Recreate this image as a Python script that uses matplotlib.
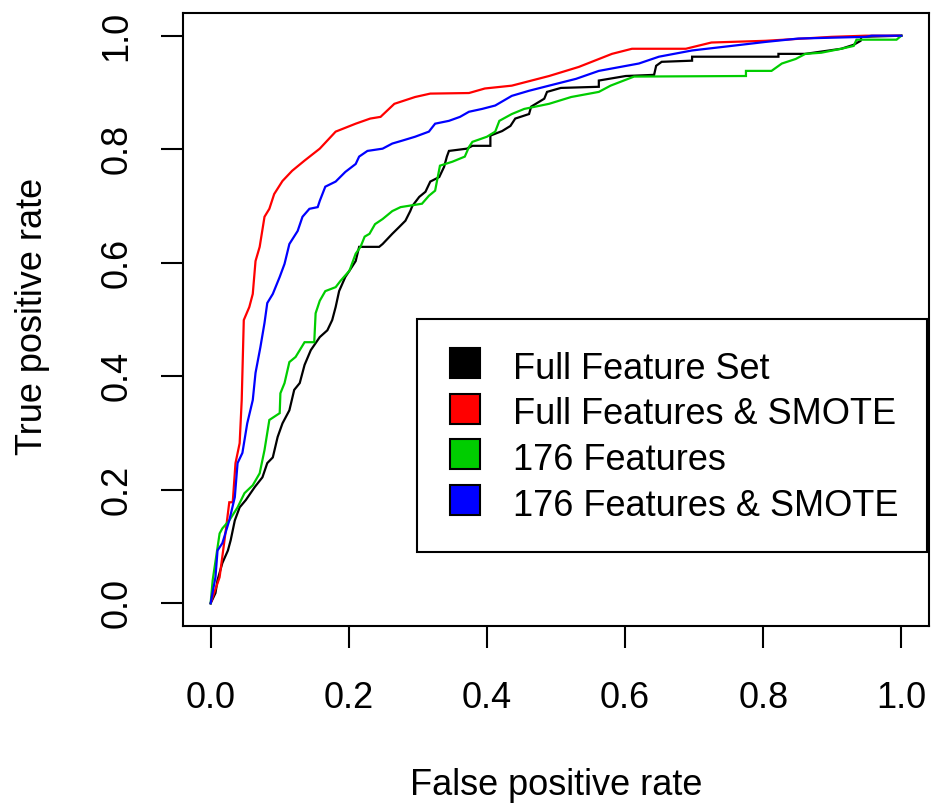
import matplotlib
matplotlib.use("Agg")
import matplotlib.pyplot as plt
from matplotlib.lines import Line2D

plt.rcParams['font.family'] = ['Liberation Sans', 'DejaVu Sans']

series_names = ["Full Feature Set", "Full Features & SMOTE", "176 Features", "176 Features & SMOTE"]
series_colors = ["#000000", "#FF0000", "#00CD00", "#0000FF"]

full_fpr = [0, 0.007, 0.010, 0.017, 0.025, 0.029, 0.035, 0.042, 0.051, 0.064, 0.075, 0.082, 0.090, 0.097,
            0.104, 0.114, 0.121, 0.129, 0.136, 0.145, 0.158, 0.169, 0.176, 0.181, 0.186, 0.195, 0.201,
            0.210, 0.215, 0.244, 0.249, 0.263, 0.273, 0.282, 0.289, 0.292, 0.302, 0.311, 0.318, 0.331,
            0.338, 0.342, 0.345, 0.371, 0.379, 0.405, 0.405, 0.422, 0.434, 0.441, 0.461, 0.464, 0.483,
            0.487, 0.507, 0.562, 0.562, 0.601, 0.642, 0.645, 0.653, 0.697, 0.697, 0.822, 0.822, 0.861,
            0.884, 0.913, 0.931, 0.941, 0.942, 1.0]
full_tpr = [0, 0.018, 0.041, 0.071, 0.093, 0.111, 0.146, 0.169, 0.182, 0.205, 0.222, 0.247, 0.257, 0.293,
            0.317, 0.340, 0.376, 0.388, 0.420, 0.446, 0.469, 0.481, 0.499, 0.522, 0.550, 0.575, 0.586,
            0.603, 0.628, 0.628, 0.633, 0.651, 0.663, 0.674, 0.691, 0.700, 0.716, 0.725, 0.743, 0.751,
            0.769, 0.787, 0.797, 0.801, 0.806, 0.806, 0.824, 0.832, 0.841, 0.854, 0.862, 0.875, 0.889,
            0.901, 0.908, 0.910, 0.921, 0.929, 0.931, 0.947, 0.954, 0.956, 0.963, 0.963, 0.968, 0.968,
            0.972, 0.977, 0.984, 0.991, 0.998, 1.0]

full_smote_fpr = [0, 0.013, 0.022, 0.027, 0.032, 0.036, 0.042, 0.045, 0.048, 0.056, 0.061, 0.065, 0.071,
                  0.078, 0.085, 0.092, 0.104, 0.118, 0.136, 0.158, 0.181, 0.210, 0.231, 0.246, 0.266,
                  0.296, 0.318, 0.374, 0.397, 0.436, 0.490, 0.533, 0.581, 0.610, 0.688, 0.725, 0.803,
                  0.899, 0.948, 1.0]
full_smote_tpr = [0, 0.046, 0.129, 0.178, 0.178, 0.247, 0.282, 0.358, 0.499, 0.522, 0.545, 0.603, 0.628,
                  0.681, 0.695, 0.721, 0.744, 0.762, 0.780, 0.801, 0.831, 0.845, 0.854, 0.857, 0.880,
                  0.892, 0.898, 0.899, 0.907, 0.912, 0.929, 0.945, 0.968, 0.977, 0.977, 0.988, 0.991,
                  0.998, 1.0, 1.0]

f176_fpr = [0, 0.003, 0.013, 0.017, 0.027, 0.039, 0.049, 0.061, 0.071, 0.078, 0.085, 0.100, 0.101, 0.107,
            0.114, 0.123, 0.136, 0.150, 0.152, 0.158, 0.166, 0.181, 0.188, 0.201, 0.210, 0.217, 0.223,
            0.230, 0.238, 0.249, 0.263, 0.275, 0.306, 0.316, 0.325, 0.332, 0.350, 0.368, 0.374, 0.379,
            0.400, 0.412, 0.418, 0.436, 0.454, 0.490, 0.522, 0.562, 0.579, 0.613, 0.775, 0.775, 0.812,
            0.827, 0.847, 0.861, 0.884, 0.913, 0.931, 0.935, 0.993, 1.0]
f176_tpr = [0, 0.041, 0.123, 0.132, 0.146, 0.169, 0.194, 0.208, 0.229, 0.270, 0.323, 0.335, 0.370, 0.388,
            0.425, 0.434, 0.460, 0.460, 0.511, 0.533, 0.550, 0.557, 0.568, 0.586, 0.616, 0.628, 0.646,
            0.651, 0.668, 0.677, 0.691, 0.698, 0.704, 0.718, 0.727, 0.771, 0.778, 0.787, 0.804, 0.813,
            0.822, 0.831, 0.850, 0.862, 0.871, 0.880, 0.892, 0.901, 0.912, 0.928, 0.929, 0.938, 0.938,
            0.951, 0.959, 0.968, 0.970, 0.977, 0.982, 0.993, 0.993, 1.0]

f176_smote_fpr = [0, 0.007, 0.010, 0.017, 0.027, 0.035, 0.039, 0.046, 0.053, 0.061, 0.065, 0.072, 0.078,
                  0.082, 0.090, 0.100, 0.107, 0.114, 0.126, 0.133, 0.143, 0.155, 0.158, 0.166, 0.181,
                  0.195, 0.210, 0.215, 0.227, 0.249, 0.263, 0.277, 0.296, 0.316, 0.325, 0.345, 0.361,
                  0.374, 0.393, 0.412, 0.436, 0.461, 0.490, 0.529, 0.562, 0.620, 0.649, 0.697, 0.754,
                  0.803, 0.851, 0.948, 0.957, 1.0]
f176_smote_tpr = [0, 0.046, 0.093, 0.106, 0.146, 0.187, 0.247, 0.265, 0.317, 0.358, 0.406, 0.451, 0.494,
                  0.529, 0.545, 0.575, 0.598, 0.633, 0.656, 0.681, 0.695, 0.698, 0.709, 0.734, 0.743,
                  0.760, 0.774, 0.787, 0.797, 0.801, 0.810, 0.815, 0.822, 0.831, 0.845, 0.850, 0.857,
                  0.866, 0.871, 0.877, 0.894, 0.903, 0.912, 0.924, 0.938, 0.951, 0.963, 0.974, 0.982,
                  0.989, 0.995, 0.998, 1.0, 1.0]

tick_values = [0.0, 0.2, 0.4, 0.6, 0.8, 1.0]
tick_labels = ["0.0", "0.2", "0.4", "0.6", "0.8", "1.0"]

curves = [(full_fpr, full_tpr), (full_smote_fpr, full_smote_tpr),
          (f176_fpr, f176_tpr), (f176_smote_fpr, f176_smote_tpr)]

fig = plt.figure(figsize=(9.34, 8.07), dpi=100)
ax = fig.add_axes([183/934, 1 - 626/807, (929-183)/934, (626-13)/807])

for (fx, ty), col in zip(curves, series_colors):
    ax.plot(fx, ty, color=col, lw=1.6, solid_joinstyle='miter')

ax.set_xlim(-0.04, 1.04)
ax.set_ylim(-0.04, 1.04)
ax.set_xticks(tick_values)
ax.set_xticklabels(tick_labels)
ax.set_yticks(tick_values)
ax.set_yticklabels(tick_labels)
for s in ax.spines.values():
    s.set_linewidth(1.5)
    s.set_color('black')
ax.tick_params(axis='both', length=15.8, width=1.5, labelsize=26, color='black')
ax.tick_params(axis='x', pad=24)
ax.tick_params(axis='y', pad=19)
for lab in ax.get_yticklabels():
    lab.set_rotation(90)
    lab.set_va('center')

ax.set_xlabel("False positive rate", fontsize=26, va='baseline')
ax.xaxis.set_label_coords(0.5, -(795 - 626) / 613)
ax.set_ylabel("True positive rate", fontsize=26, va='baseline')
ax.yaxis.set_label_coords((42 - 183) / 746, 0.505)

handles = [Line2D([], [], marker='s', markersize=21, markerfacecolor=c, markeredgecolor='black',
                  markeredgewidth=1.5, linestyle='none') for c in series_colors]
leg = ax.legend(handles, series_names, loc='upper left', bbox_to_anchor=(0.3137, 0.5008),
                fontsize=26, frameon=True, fancybox=False, framealpha=1, edgecolor='black',
                borderpad=0.78, handlelength=1.11, handleheight=1.28, handletextpad=0.78,
                labelspacing=0.17, borderaxespad=0)
leg.get_frame().set_linewidth(1.5)

fig.savefig("out.png", dpi=100)
